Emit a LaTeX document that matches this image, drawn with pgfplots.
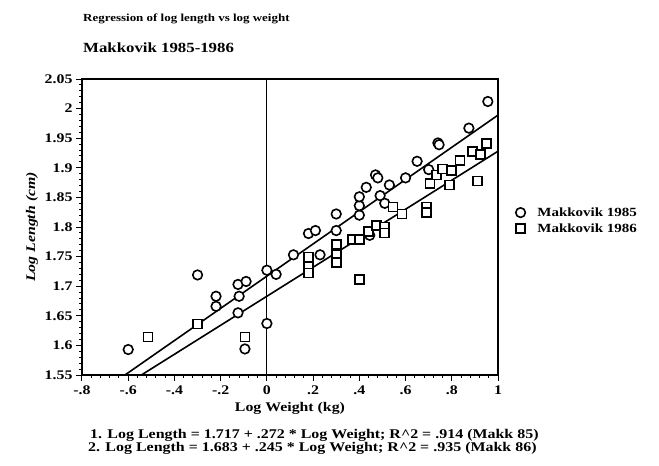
\documentclass[border=0pt]{standalone}
\usepackage{pgfplots}
\pgfplotsset{compat=1.18}
\usepackage{fontspec}
\setmainfont{Liberation Serif}[FakeStretch=1.2]

\pgfplotstableread{
x y
-0.60 1.593
-0.30 1.719
-0.22 1.683
-0.22 1.666
-0.125 1.703
-0.09 1.708
-0.12 1.683
-0.125 1.655
-0.095 1.594
0.00 1.727
0.04 1.720
0.00 1.637
0.115 1.753
0.18 1.789
0.21 1.794
0.23 1.753
0.30 1.794
0.30 1.822
0.40 1.820
0.40 1.836
0.40 1.851
0.43 1.867
0.445 1.786
0.47 1.888
0.48 1.883
0.49 1.853
0.51 1.840
0.53 1.871
0.60 1.883
0.65 1.911
0.70 1.897
0.74 1.942
0.745 1.939
0.874 1.967
0.956 2.012
}\datayA

\pgfplotstableread{
x y
-0.515 1.614
-0.30 1.636
-0.095 1.614
0.18 1.749
0.18 1.733
0.18 1.722
0.30 1.770
0.30 1.754
0.30 1.740
0.37 1.779
0.40 1.779
0.40 1.711
0.44 1.792
0.475 1.803
0.51 1.800
0.51 1.790
0.545 1.834
0.585 1.822
0.69 1.834
0.69 1.824
0.705 1.873
0.735 1.888
0.76 1.898
0.79 1.871
0.80 1.895
0.835 1.912
0.89 1.928
0.91 1.878
0.925 1.922
0.95 1.941
}\datayB

\begin{document}
\begin{tikzpicture}[x=1pt,y=1pt]
\path (-82,-91) rectangle (577,375);
\begin{axis}[
  at={(0,0)}, anchor=south west,
  scale only axis, width=416pt, height=296pt,
  xmin=-0.8, xmax=1, ymin=1.55, ymax=2.05,
  xtick={-0.8,-0.6,-0.4,-0.2,0,0.2,0.4,0.6,0.8,1},
  xticklabels={-.8,-.6,-.4,-.2,0,.2,.4,.6,.8,1},
  ytick={1.55,1.6,1.65,1.7,1.75,1.8,1.85,1.9,1.95,2,2.05},
  yticklabels={1.55,1.6,1.65,1.7,1.75,1.8,1.85,1.9,1.95,2,2.05},
  minor x tick num=4, minor y tick num=4,
  tick align=outside, tick pos=left,
  major tick length=6pt, minor tick length=3pt,
  axis line style={line width=1.5pt},
  every tick/.style={line width=1pt, black},
  tick label style={font=\fontsize{13.2}{15}\selectfont\bfseries},
  xticklabel style={inner sep=2pt, yshift=-3pt},
  xlabel={Log Weight (kg)},
  ylabel={\itshape Log Length (cm)},
  label style={font=\fontsize{13.2}{15}\selectfont\bfseries},
  xlabel style={inner sep=1pt, yshift=-4pt},
  legend style={at={(1.035,0.58)}, anchor=north west, draw=none, fill=none,
    font=\fontsize{12.5}{14}\selectfont\bfseries, row sep=2pt, column sep=10pt},
  legend cell align=left,
]
\addplot[black, line width=1.2pt, forget plot] coordinates {(0,1.55) (0,2.05)};
\addplot[black, line width=1.6pt, forget plot] coordinates {(-0.614,1.55) (1,1.989)};
\addplot[black, line width=1.6pt, forget plot] coordinates {(-0.543,1.55) (1,1.928)};
\addplot[only marks, mark=*, mark size=4.8pt,
  mark options={draw=black, fill=white, line width=1.6pt}] table[x=x,y=y] {\datayA};
\addlegendentry{Makkovik 1985}
\addplot[only marks, mark=square*, mark size=4.5pt,
  mark options={draw=black, fill=white, line width=1.6pt}] table[x=x,y=y] {\datayB};
\addlegendentry{Makkovik 1986}
\end{axis}
\node[anchor=base west, inner sep=0pt, font=\fontsize{10.8}{12}\selectfont\bfseries] at (1,353) {Regression of log length vs log weight};
\node[anchor=base west, inner sep=0pt, font=\fontsize{14}{16}\selectfont\bfseries] at (1,322) {Makkovik 1985-1986};
\node[anchor=base west, inner sep=0pt, font=\fontsize{13.3}{14}\selectfont\bfseries] at (8,-63) {1. Log Length = 1.717 + .272 * Log Weight; R\textasciicircum 2 = .914 (Makk 85)};
\node[anchor=base west, inner sep=0pt, font=\fontsize{13.3}{14}\selectfont\bfseries] at (6,-76) {2. Log Length = 1.683 + .245 * Log Weight; R\textasciicircum 2 = .935 (Makk 86)};
\end{tikzpicture}
\end{document}
